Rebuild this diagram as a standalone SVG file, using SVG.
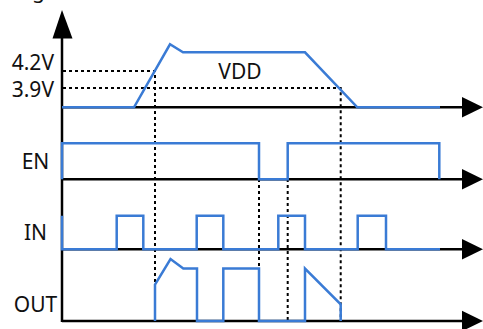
<svg xmlns="http://www.w3.org/2000/svg" width="483" height="329" viewBox="0 0 483 329">
<style>
.ax{stroke:#000;stroke-width:2.5;fill:none}
.ah{fill:#000}
.dot{stroke:#000;stroke-width:2;stroke-dasharray:3 3;fill:none}
.sig{stroke:#3a7bd5;stroke-width:2.5;fill:none;stroke-linejoin:miter}
.lbl{font-family:"Noto Sans","Open Sans",sans-serif;font-size:21px;fill:#111}
</style>
<rect width="483" height="329" fill="#fff"/>
<g id="axes">
<line class="ax" x1="62" y1="36" x2="62" y2="322"/>
<polygon class="ah" points="62,10 52.5,38.5 72.5,38.5"/>
<line class="ax" x1="62" y1="107.3" x2="464" y2="107.3"/>
<polygon class="ah" points="483,107.3 462,97 462,117.5"/>
<line class="ax" x1="62" y1="179.3" x2="464" y2="179.3"/>
<polygon class="ah" points="483,179.3 462,169 462,189.5"/>
<line class="ax" x1="62" y1="249.3" x2="464" y2="249.3"/>
<polygon class="ah" points="483,249.3 462,239 462,259.5"/>
<line class="ax" x1="62" y1="321" x2="464" y2="321"/>
<polygon class="ah" points="483,321 462,310.7 462,331.2"/>
</g>
<g id="connectors">
<polyline class="dot" points="63,71 155,71 155,321"/>
<polyline class="dot" points="63,88 340.7,88 340.7,321"/>
<line class="dot" x1="259" y1="179" x2="259" y2="321"/>
<line class="dot" x1="287.7" y1="179" x2="287.7" y2="321"/>
</g>
<g id="vdd">
<polyline class="sig" points="62,107.3 134,107.3 170,44.3 183,52.3 305,52.3 357.3,107.3 440,107.3"/>
<text class="lbl" x="240" y="78.5" text-anchor="middle">VDD</text>
</g>
<g id="en">
<polyline class="sig" points="62,179.3 62,143.3 259,143.3 259,179.3 287.7,179.3 287.7,143.3 439.3,143.3 439.3,179.3"/>
</g>
<g id="in">
<polyline class="sig" points="62,215.7 62,249.3 116.7,249.3 116.7,215.7 143.3,215.7 143.3,249.3 196.7,249.3 196.7,215.7 223.3,215.7 223.3,249.3 278.3,249.3 278.3,215.7 305,215.7 305,249.3 357.7,249.3 357.7,215.7 386,215.7 386,249.3 440,249.3"/>
</g>
<g id="out">
<polyline class="sig" points="155,321 155,284.5 170.5,259 183.3,268.5 197,268.5 197,321 223.3,321 223.3,268.5 259,268.5 259,321 305,321 305,268.5 340.7,304.3 340.7,321"/>
</g>
<g id="labels">
<text class="lbl" x="32" y="-2">g</text>
<text class="lbl" x="54" y="70" text-anchor="end">4.2V</text>
<text class="lbl" x="54" y="96.7" text-anchor="end">3.9V</text>
<text class="lbl" x="35.5" y="169.3" text-anchor="middle">EN</text>
<text class="lbl" x="35.5" y="240" text-anchor="middle">IN</text>
<text class="lbl" x="35.5" y="311.7" text-anchor="middle">OUT</text>
</g>
</svg>
